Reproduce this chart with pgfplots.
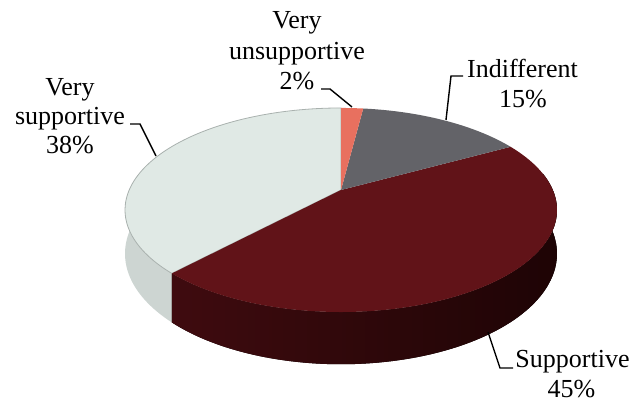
\documentclass[border=0pt]{standalone}
\usepackage{fontspec}
\setmainfont{Liberation Serif}
\newfontfamily\timesfont{Liberation Serif}
\usepackage{pgfplots}
\usepackage{pgfplotstable}
\pgfplotsset{compat=1.18}
\usepgfplotslibrary{fillbetween}
\definecolor{cVU}{HTML}{E8705F}
\definecolor{cIN}{HTML}{636368}
\definecolor{cSU}{HTML}{611318}
\definecolor{cSUsideL}{HTML}{3F0B0F}
\definecolor{cSUsideR}{HTML}{1E0405}
\definecolor{cVS}{HTML}{E0E9E5}
\definecolor{cVSside}{HTML}{CDD5D2}
\definecolor{cVSedge}{HTML}{A9B1AE}
\tikzset{lbl/.style={font=\timesfont\fontsize{26}{30}\selectfont, anchor=base, inner sep=0pt}}
% rim of the tilted pie (perspective projection of a circle)
\pgfmathdeclarefunction{rimx}{1}{\pgfmathparse{341+211.8*cos(#1)/(1+0.196*sin(#1))}}
\pgfmathdeclarefunction{rimy}{1}{\pgfmathparse{190-98.1*sin(#1)/(1+0.196*sin(#1))}}
\pgfmathdeclarefunction{rimyb}{1}{\pgfmathparse{190+(42-98.1*sin(#1))/(1+0.196*sin(#1))}}
\pgfplotstableread{
label pct
VeryUnsupportive 2
Indifferent 15
Supportive 45
VerySupportive 38
}\piedata
\begin{document}
\begin{tikzpicture}
\pgfplotstablegetelem{0}{pct}\of\piedata \pgfmathsetmacro\aA{90-3.6*\pgfplotsretval}
\pgfplotstablegetelem{1}{pct}\of\piedata \pgfmathsetmacro\aB{\aA-3.6*\pgfplotsretval}
\pgfplotstablegetelem{2}{pct}\of\piedata \pgfmathsetmacro\aC{\aB-3.6*\pgfplotsretval}
\pgfplotstablegetelem{3}{pct}\of\piedata \pgfmathsetmacro\aD{\aC-3.6*\pgfplotsretval}
\begin{axis}[
  x=1pt, y=1pt, y dir=reverse,
  xmin=0, xmax=633, ymin=0, ymax=404,
  hide axis, clip=false,
  every axis plot/.append style={samples=80, smooth},
]
\path (axis cs:0,0) rectangle (axis cs:633,404);
% side walls (front part)
\addplot[draw=none, name path=vsT, domain=-190:\aC] ({rimx(x)},{rimy(x)});
\addplot[draw=none, name path=vsB, domain=-190:\aC] ({rimx(x)},{rimyb(x)});
\addplot[draw=none, name path=suT, domain=\aC:10] ({rimx(x)},{rimy(x)});
\addplot[draw=none, name path=suB, domain=\aC:10] ({rimx(x)},{rimyb(x)});
\addplot[fill=cVSside, draw=none] fill between[of=vsT and vsB];
\addplot[left color=cSUsideL, right color=cSUsideR, draw=none] fill between[of=suT and suB];
% top faces
\addplot[fill=cVS, draw=cVSedge, line width=0.8pt, domain=\aD:\aC] ({rimx(x)},{rimy(x)}) -- (axis cs:341,190) -- cycle;
\addplot[fill=cSU, draw=none, domain=\aC:\aB] ({rimx(x)},{rimy(x)}) -- (axis cs:341,190) -- cycle;
\addplot[fill=cIN, draw=none, domain=\aB:\aA] ({rimx(x)},{rimy(x)}) -- (axis cs:341,190) -- cycle;
\addplot[fill=cVU, draw=none, domain=\aA:90] ({rimx(x)},{rimy(x)}) -- (axis cs:341,190) -- cycle;
% leader lines
\draw[line width=1.4pt] (axis cs:321,89) -- (axis cs:330,89) -- (axis cs:352,107);
\draw[line width=1.4pt] (axis cs:130,124) -- (axis cs:140,124) -- (axis cs:156,156);
\draw[line width=1.4pt] (axis cs:463,76) -- (axis cs:451,76) -- (axis cs:446,120);
\draw[line width=1.4pt] (axis cs:513,368) -- (axis cs:500,368) -- (axis cs:488,332);
% labels
\node[lbl] at (axis cs:297,28.5) {Very};
\node[lbl] at (axis cs:297,59.5) {unsupportive};
\node[lbl] at (axis cs:297,90) {2\%};
\node[lbl] at (axis cs:70,95.5) {Very};
\node[lbl] at (axis cs:70,124.5) {supportive};
\node[lbl] at (axis cs:70,154) {38\%};
\node[lbl] at (axis cs:522.5,77.5) {Indifferent};
\node[lbl] at (axis cs:523,107.5) {15\%};
\node[lbl] at (axis cs:572.5,368) {Supportive};
\node[lbl] at (axis cs:571.5,398) {45\%};
\end{axis}
\end{tikzpicture}
\end{document}
